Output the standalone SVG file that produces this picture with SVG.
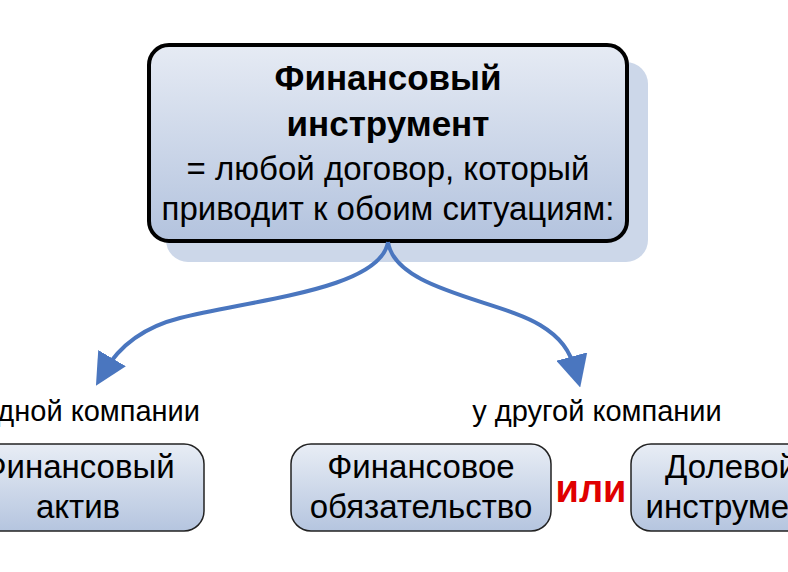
<svg xmlns="http://www.w3.org/2000/svg" width="788" height="572" viewBox="0 0 788 572">
<style>
.t{font-family:"Liberation Sans",Arial,sans-serif;fill:#000;text-anchor:middle}
.box{stroke:#222;stroke-width:1.5;fill:url(#gs)}
.c{fill:none;stroke:#4a76bf;stroke-width:4}
</style>
<defs>
<linearGradient id="gt" x1="0" y1="0" x2="0" y2="1"><stop offset="0" stop-color="#e6ebf4"/><stop offset="1" stop-color="#b3c3de"/></linearGradient>
<linearGradient id="gs" x1="0" y1="0" x2="0" y2="1"><stop offset="0" stop-color="#e8edf5"/><stop offset="1" stop-color="#b5c5df"/></linearGradient>
<marker id="ah" viewBox="0 0 10 10" refX="5" refY="5" markerWidth="8" markerHeight="8" markerUnits="strokeWidth" orient="auto"><path d="M0,0 L10,5 L0,10 Z" fill="#4a76bf"/></marker>
</defs>
<rect width="788" height="572" fill="#fff"/>
<g id="top">
<rect x="166" y="62" width="482" height="200" rx="22" fill="#ccd7e9"/>
<rect x="149" y="45" width="478" height="196" rx="20" fill="url(#gt)" stroke="#000" stroke-width="4"/>
<text class="t" x="388" y="90" font-size="35" font-weight="bold">Финансовый</text>
<text class="t" x="388" y="136" font-size="35" font-weight="bold">инструмент</text>
<text class="t" x="388" y="180" font-size="33">= любой договор, который</text>
<text class="t" x="388" y="220" font-size="33">приводит к обоим ситуациям:</text>
</g>
<g id="connectors">
<path class="c" d="M388,242 C380,290 250,300 180,318 C140,328 118,348 104,372" marker-end="url(#ah)"/>
<path class="c" d="M388,242 C395,290 500,300 540,325 C560,337 570,350 576,372" marker-end="url(#ah)"/>
</g>
<g id="labels">
<text class="t" x="200" y="421" font-size="29" style="text-anchor:end">дной компании</text>
<text class="t" x="597" y="421" font-size="29">у другой компании</text>
</g>
<g id="n1">
<rect x="-40" y="444" width="244" height="87" rx="20" class="box"/>
<text class="t" x="78" y="478" font-size="33">Финансовый</text>
<text class="t" x="78" y="518" font-size="33">актив</text>
</g>
<g id="n2">
<rect x="291" y="444" width="260" height="87" rx="20" class="box"/>
<text class="t" x="421" y="478" font-size="33">Финансовое</text>
<text class="t" x="421" y="518" font-size="33">обязательство</text>
</g>
<g id="or"><text class="t" x="591" y="502" font-size="38" font-weight="bold" style="fill:#e00000">или</text></g>
<g id="n3">
<rect x="631" y="444" width="260" height="87" rx="20" class="box"/>
<text class="t" x="731" y="478" font-size="33">Долевой</text>
<text class="t" x="734" y="518" font-size="33">инструмент</text>
</g>
</svg>
